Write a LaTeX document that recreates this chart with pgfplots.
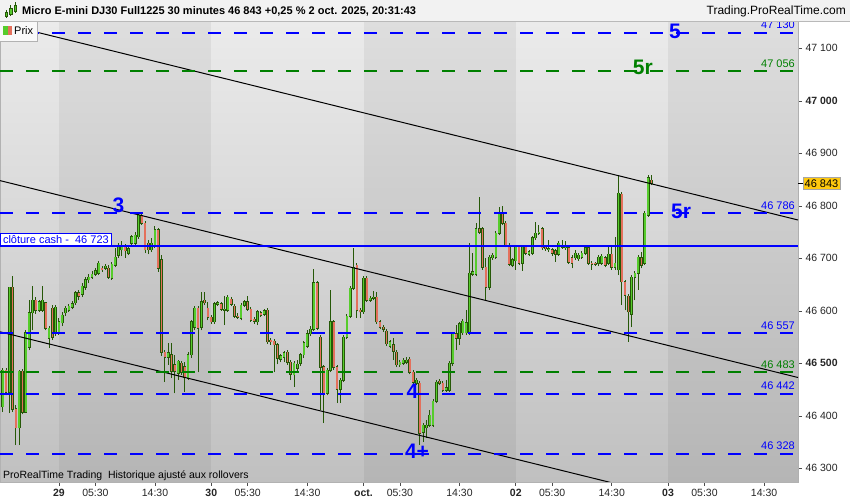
\documentclass[border=0pt]{standalone}
\usepackage{fontspec}
\setmainfont{Liberation Sans}
\usepackage{pgfplots}
\usepackage{pgfplotstable}
\pgfplotsset{compat=1.18}

\definecolor{lvlblue}{RGB}{0,0,255}
\definecolor{lvlgreen}{RGB}{0,128,0}
\definecolor{upfill}{RGB}{86,204,44}
\definecolor{downfill}{RGB}{228,112,92}
\definecolor{wick}{RGB}{38,88,8}
\definecolor{bgtop}{RGB}{235,235,235}
\definecolor{bgbot}{RGB}{192,192,192}
\definecolor{tagyellow}{RGB}{255,201,14}
\newcommand\fs[1]{\fontsize{#1}{#1}\selectfont}

\pgfplotsset{
  bars/.style={draw=none, mark=none, forget plot,
    error bars/.cd, y dir=plus, y explicit, error mark=none},
}

% 30 min candles, x = hours from 29 sept 00:00 (23 h per session)
\pgfplotstableread{
x o h l c
-8.5 46417 46491 46407 46487
-8 46487 46491 46439 46445
-7.5 46445 46645 46405 46645
-7 46645 46666 46407 46413
-6.5 46413 46420 46344 46377
-6 46377 46487 46344 46485
-5.5 46485 46489 46403 46407
-5 46407 46563 46405 46558
-4.5 46531 46620 46525 46596
-4 46596 46647 46563 46620
-3.5 46620 46626 46594 46601
-3 46601 46620 46598 46617
-2.5 46601 46647 46598 46620
-2 46615 46617 46563 46567
-1.5 46548 46571 46529 46567
-1 46605 46611 46544 46550
-0.5 46560 46611 46552 46607
0 46560 46586 46554 46579
0.5 46577 46598 46571 46592
1 46596 46609 46590 46605
1.5 46601 46613 46598 46609
2 46607 46619 46603 46613
2.5 46615 46638 46611 46634
3 46634 46640 46620 46628
3.5 46632 46653 46626 46647
4 46645 46664 46640 46659
4.5 46659 46670 46653 46664
5 46664 46676 46661 46670
5.5 46670 46681 46666 46676
6 46672 46695 46668 46691
6.5 46681 46685 46674 46678
7 46681 46689 46678 46685
7.5 46681 46687 46661 46664
8 46662 46693 46659 46689
8.5 46687 46720 46683 46702
9 46706 46729 46701 46721
9.5 46716 46733 46704 46725
10 46721 46727 46701 46714
10.5 46710 46723 46706 46718
11 46729 46744 46723 46741
11.5 46729 46750 46725 46744
12 46741 46786 46737 46782
12.5 46781 46784 46763 46767
13 46767 46771 46710 46716
13.5 46729 46735 46708 46716
14 46716 46739 46712 46729
14.5 46725 46762 46720 46754
15 46754 46758 46674 46681
15.5 46697 46706 46514 46521
16 46521 46525 46464 46512
16.5 46512 46539 46497 46520
17 46516 46539 46472 46485
17.5 46497 46516 46443 46485
18 46481 46506 46468 46504
18.5 46500 46504 46478 46483
19 46493 46502 46445 46474
19.5 46472 46521 46468 46516
20 46516 46582 46510 46579
20.5 46569 46609 46563 46605
21 46605 46609 46483 46567
21.5 46569 46636 46563 46617
22 46620 46636 46611 46615
22.5 46605 46617 46582 46588
23 46588 46592 46575 46579
23.5 46579 46617 46575 46613
24 46613 46619 46609 46615
24.5 46613 46617 46600 46603
25 46601 46628 46573 46603
25.5 46601 46630 46598 46626
26 46622 46626 46609 46613
26.5 46609 46613 46586 46590
27 46590 46596 46584 46588
27.5 46586 46615 46582 46611
28 46611 46620 46607 46617
28.5 46617 46628 46600 46603
29 46603 46607 46579 46582
29.5 46584 46588 46575 46580
30 46579 46601 46573 46598
30.5 46596 46600 46588 46592
31 46594 46603 46590 46600
31.5 46601 46605 46537 46541
32 46544 46548 46535 46541
32.5 46542 46546 46483 46535
33 46535 46539 46498 46510
33.5 46508 46518 46502 46514
34 46512 46523 46502 46520
34.5 46521 46525 46497 46502
35 46502 46506 46468 46479
35.5 46478 46504 46455 46500
36 46491 46506 46483 46498
36.5 46500 46520 46495 46516
37 46516 46542 46510 46539
37.5 46533 46563 46529 46556
38 46556 46571 46552 46565
38.5 46565 46680 46561 46653
39 46653 46657 46563 46567
39.5 46550 46554 46411 46493
40 46493 46497 46386 46443
40.5 46443 46491 46439 46487
41 46487 46640 46483 46579
41.5 46579 46582 46487 46493
42 46493 46497 46424 46451
42.5 46451 46472 46424 46468
43 46468 46554 46464 46550
43.5 46550 46594 46546 46590
44 46590 46647 46586 46643
44.5 46643 46720 46640 46683
45 46687 46691 46586 46601
45.5 46601 46605 46586 46598
46 46598 46666 46594 46662
46.5 46662 46666 46617 46620
47 46620 46628 46617 46624
47.5 46624 46638 46620 46626
48 46626 46636 46575 46579
48.5 46579 46582 46565 46569
49 46569 46573 46560 46565
49.5 46561 46565 46533 46537
50 46533 46544 46529 46541
50.5 46535 46548 46506 46523
51 46521 46525 46493 46497
51.5 46497 46506 46493 46502
52 46500 46510 46497 46506
52.5 46502 46512 46498 46506
53 46508 46512 46479 46483
53.5 46483 46487 46458 46464
54 46462 46472 46458 46468
54.5 46462 46466 46344 46367
55 46369 46386 46350 46382
55.5 46377 46392 46358 46382
56 46382 46411 46379 46401
56.5 46382 46432 46379 46428
57 46428 46468 46424 46464
57.5 46466 46470 46458 46462
58 46462 46466 46445 46449
58.5 46449 46468 46445 46453
59 46449 46504 46445 46500
59.5 46500 46560 46495 46556
60 46556 46573 46525 46548
60.5 46548 46579 46535 46575
61 46558 46584 46554 46580
61.5 46558 46601 46554 46577
62 46558 46729 46554 46672
62.5 46670 46710 46666 46674
63 46670 46767 46666 46756
63.5 46756 46817 46746 46750
64 46756 46760 46678 46683
64.5 46683 46701 46620 46645
65 46645 46706 46640 46702
65.5 46701 46710 46697 46706
66 46702 46752 46699 46748
66.5 46748 46798 46744 46786
67 46786 46800 46763 46767
67.5 46767 46771 46721 46725
68 46725 46729 46685 46689
68.5 46687 46701 46683 46697
69 46695 46725 46678 46721
69.5 46721 46725 46687 46691
70 46691 46725 46676 46721
70.5 46721 46725 46706 46710
71 46708 46716 46704 46712
71.5 46710 46742 46706 46739
72 46739 46769 46735 46748
72.5 46748 46763 46744 46750
73 46756 46760 46716 46720
73.5 46721 46725 46714 46718
74 46716 46735 46712 46718
74.5 46716 46720 46704 46710
75 46714 46718 46693 46708
75.5 46708 46733 46704 46729
76 46721 46735 46718 46725
76.5 46720 46733 46716 46725
77 46720 46723 46689 46693
77.5 46701 46706 46681 46691
78 46701 46716 46697 46710
78.5 46699 46710 46695 46706
79 46702 46714 46699 46710
79.5 46710 46723 46706 46720
80 46720 46723 46687 46691
80.5 46691 46695 46678 46689
81 46691 46693 46685 46689
81.5 46691 46706 46685 46702
82 46691 46708 46687 46704
82.5 46701 46704 46683 46687
83 46691 46723 46687 46708
83.5 46708 46723 46678 46683
84 46683 46741 46678 46691
84.5 46678 46859 46668 46824
85 46822 46826 46611 46655
85.5 46655 46659 46601 46630
86 46628 46632 46541 46598
86.5 46594 46668 46569 46664
87 46664 46676 46620 46672
87.5 46672 46706 46640 46702
88 46701 46712 46681 46687
88.5 46691 46790 46687 46786
89 46782 46859 46779 46853
89.5 46849 46859 46839 46843
}\candles

\begin{document}
\begin{tikzpicture}[x=1pt,y=1pt]
\path[use as bounding box] (0,-18) rectangle (850,482);
\fill[white] (0,-18) rectangle (850,482);
\begin{axis}[
  scale only axis, width=798pt, height=461pt,
  xmin=-8.91, xmax=111.63, ymin=46274, ymax=47152,
  axis background/.style={shade, top color=bgtop, bottom color=bgbot},
  axis line style={draw=gray!60},
  tick align=outside, major tick length=4pt,
  tick style={draw=gray!60!black, line width=0.6pt},
  xtick pos=left, ytick pos=right, yticklabel pos=right,
  xtick={0,5.5,14.5,23,28.5,37.5,46,51.5,60.5,69,74.5,83.5,92,97.5,106.5},
  xticklabels={\textbf{29},05:30,14:30,\textbf{30},05:30,14:30,\textbf{oct.},05:30,14:30,\textbf{02},05:30,14:30,\textbf{03},05:30,14:30},
  ytick={46300,46400,46500,46600,46700,46800,46900,47000,47100},
  yticklabels={46 300,46 400,\textbf{46 500},46 600,46 700,46 800,46 900,\textbf{47 000},47 100},
  xticklabel style={font=\fs{10.5}, text=black!85},
  yticklabel style={font=\fs{10.5}, text=black!85},
]
% session bands
\fill[black, opacity=0.055] (axis cs:0,46200) rectangle (axis cs:23,47200);
\fill[black, opacity=0.055] (axis cs:46,46200) rectangle (axis cs:69,47200);
\fill[black, opacity=0.055] (axis cs:92,46200) rectangle (axis cs:120,47200);

% wicks
\addplot[bars, error bar style={draw=wick, line width=1pt}]
  table[x=x, y=l, y error plus expr=\thisrow{h}-\thisrow{l}] {\candles};
% bodies: outline then fill (the other direction is parked below ymin)
\addplot[bars, error bar style={draw=wick, line width=2.8pt}]
  table[x=x, y expr={\thisrow{c}<\thisrow{o} ? 46200 : \thisrow{o}-1},
    y error plus expr={\thisrow{c}<\thisrow{o} ? 0 : \thisrow{c}-\thisrow{o}+2}] {\candles};
\addplot[bars, error bar style={draw=upfill, line width=1.6pt}]
  table[x=x, y expr={\thisrow{c}<\thisrow{o} ? 46200 : \thisrow{o}},
    y error plus expr={\thisrow{c}<\thisrow{o} ? 0 : \thisrow{c}-\thisrow{o}}] {\candles};
\addplot[bars, error bar style={draw=wick, line width=2.8pt}]
  table[x=x, y expr={\thisrow{c}<\thisrow{o} ? \thisrow{c}-1 : 46200},
    y error plus expr={\thisrow{c}<\thisrow{o} ? \thisrow{o}-\thisrow{c}+2 : 0}] {\candles};
\addplot[bars, error bar style={draw=downfill, line width=1.6pt}]
  table[x=x, y expr={\thisrow{c}<\thisrow{o} ? \thisrow{c} : 46200},
    y error plus expr={\thisrow{c}<\thisrow{o} ? \thisrow{o}-\thisrow{c} : 0}] {\candles};

% trend channel
\addplot[black, line width=1pt, forget plot] coordinates {(-8.91,47148) (111.63,46773)};
\addplot[black, line width=1pt, forget plot] coordinates {(-8.91,46848) (111.63,46473)};
\addplot[black, line width=1pt, forget plot] coordinates {(-8.91,46560) (111.63,46185)};

% levels
\addplot[lvlblue, line width=2pt, dash pattern=on 13pt off 13pt, forget plot] coordinates {(-8.91,47130) (111.63,47130)};
\addplot[lvlgreen, line width=2pt, dash pattern=on 13pt off 13pt, forget plot] coordinates {(-8.91,47056) (111.63,47056)};
\addplot[lvlblue, line width=2pt, dash pattern=on 13pt off 13pt, forget plot] coordinates {(-8.91,46786) (111.63,46786)};
\addplot[lvlblue, line width=2pt, forget plot] coordinates {(-8.91,46723) (111.63,46723)};
\addplot[lvlblue, line width=2pt, dash pattern=on 13pt off 13pt, forget plot] coordinates {(-8.91,46557) (111.63,46557)};
\addplot[lvlgreen, line width=2pt, dash pattern=on 13pt off 13pt, forget plot] coordinates {(-8.91,46483) (111.63,46483)};
\addplot[lvlblue, line width=2pt, dash pattern=on 13pt off 13pt, forget plot] coordinates {(-8.91,46442) (111.63,46442)};
\addplot[lvlblue, line width=2pt, dash pattern=on 13pt off 13pt, forget plot] coordinates {(-8.91,46328) (111.63,46328)};

\node[anchor=south east, inner sep=0pt, text=lvlblue, font=\fs{11}] at (axis cs:111.18,47137) {47 130};
\node[anchor=south east, inner sep=0pt, text=lvlgreen, font=\fs{11}] at (axis cs:111.18,47063) {47 056};
\node[anchor=south east, inner sep=0pt, text=lvlblue, font=\fs{11}] at (axis cs:111.18,46793) {46 786};
\node[anchor=south east, inner sep=0pt, text=lvlblue, font=\fs{11}] at (axis cs:111.18,46564) {46 557};
\node[anchor=south east, inner sep=0pt, text=lvlgreen, font=\fs{11}] at (axis cs:111.18,46490) {46 483};
\node[anchor=south east, inner sep=0pt, text=lvlblue, font=\fs{11}] at (axis cs:111.18,46449) {46 442};
\node[anchor=south east, inner sep=0pt, text=lvlblue, font=\fs{11}] at (axis cs:111.18,46335) {46 328};

\node[text=lvlblue, font=\bfseries\fs{21}] at (axis cs:8.99,46801) {3};
\node[text=lvlblue, font=\bfseries\fs{21}] at (axis cs:93.05,47133) {5};
\node[text=lvlgreen, font=\bfseries\fs{21}] at (axis cs:88.2,47064) {5r};
\node[text=lvlblue, font=\bfseries\fs{21}] at (axis cs:93.96,46790) {5r};
\node[text=lvlblue, font=\bfseries\fs{21}] at (axis cs:53.4,46447) {4};
\node[text=lvlblue, font=\bfseries\fs{21}] at (axis cs:54.08,46333) {4+};

\node[draw=lvlblue, fill=white, line width=1pt, anchor=south west, inner xsep=2.5pt, inner ysep=2pt,
  text=lvlblue, font=\fs{11}] at (axis cs:-8.91,46724) {clôture cash -\ \ 46 723};

\coordinate (tag) at (axis cs:111.63,46843);
\end{axis}

% price tag
\draw[black, line width=0.8pt] (tag) -- ++(5,0);
\node[anchor=west, fill=tagyellow, draw=gray!70, inner xsep=1.5pt, inner ysep=2.5pt, font=\fs{11}]
  at ([xshift=5pt]tag) {46 843};

% legend box
\fill[gray!5] (0,441) rectangle (37,461);
\draw[gray!60] (0.5,441) -- (37,441) -- (37,461);
\fill[upfill] (3,447) rectangle (8,456);
\fill[downfill] (8,447) rectangle (12,456);
\node[anchor=west, inner sep=0pt, font=\fs{11}] at (14,451.5) {Prix};

% footer note
\node[anchor=west, inner sep=0pt, font=\fs{10.5}] at (3,6) {ProRealTime Trading\ \ Historique ajusté aux rollovers};

% title bar
\fill[gray!10] (0,461) rectangle (850,482);
\draw[gray!55] (0,461) -- (850,461);
\draw[wick, line width=0.6pt] (6,464) -- (6,472) (10.5,466) -- (10.5,477) (15,469) -- (15,480);
\fill[upfill, draw=wick, line width=0.4pt] (4.8,466) rectangle (7.2,470);
\fill[upfill, draw=wick, line width=0.4pt] (9.3,468) rectangle (11.7,474);
\fill[upfill, draw=wick, line width=0.4pt] (13.8,471) rectangle (16.2,477);
\node[anchor=west, inner sep=0pt, font=\bfseries\fs{11}] at (22,471) {Micro E-mini DJ30 Full1225 30 minutes 46 843 +0,25 \% 2 oct. 2025, 20:31:43};
\node[anchor=east, inner sep=0pt, font=\fs{12}] at (846,471) {Trading.ProRealTime.com};
\end{tikzpicture}
\end{document}
